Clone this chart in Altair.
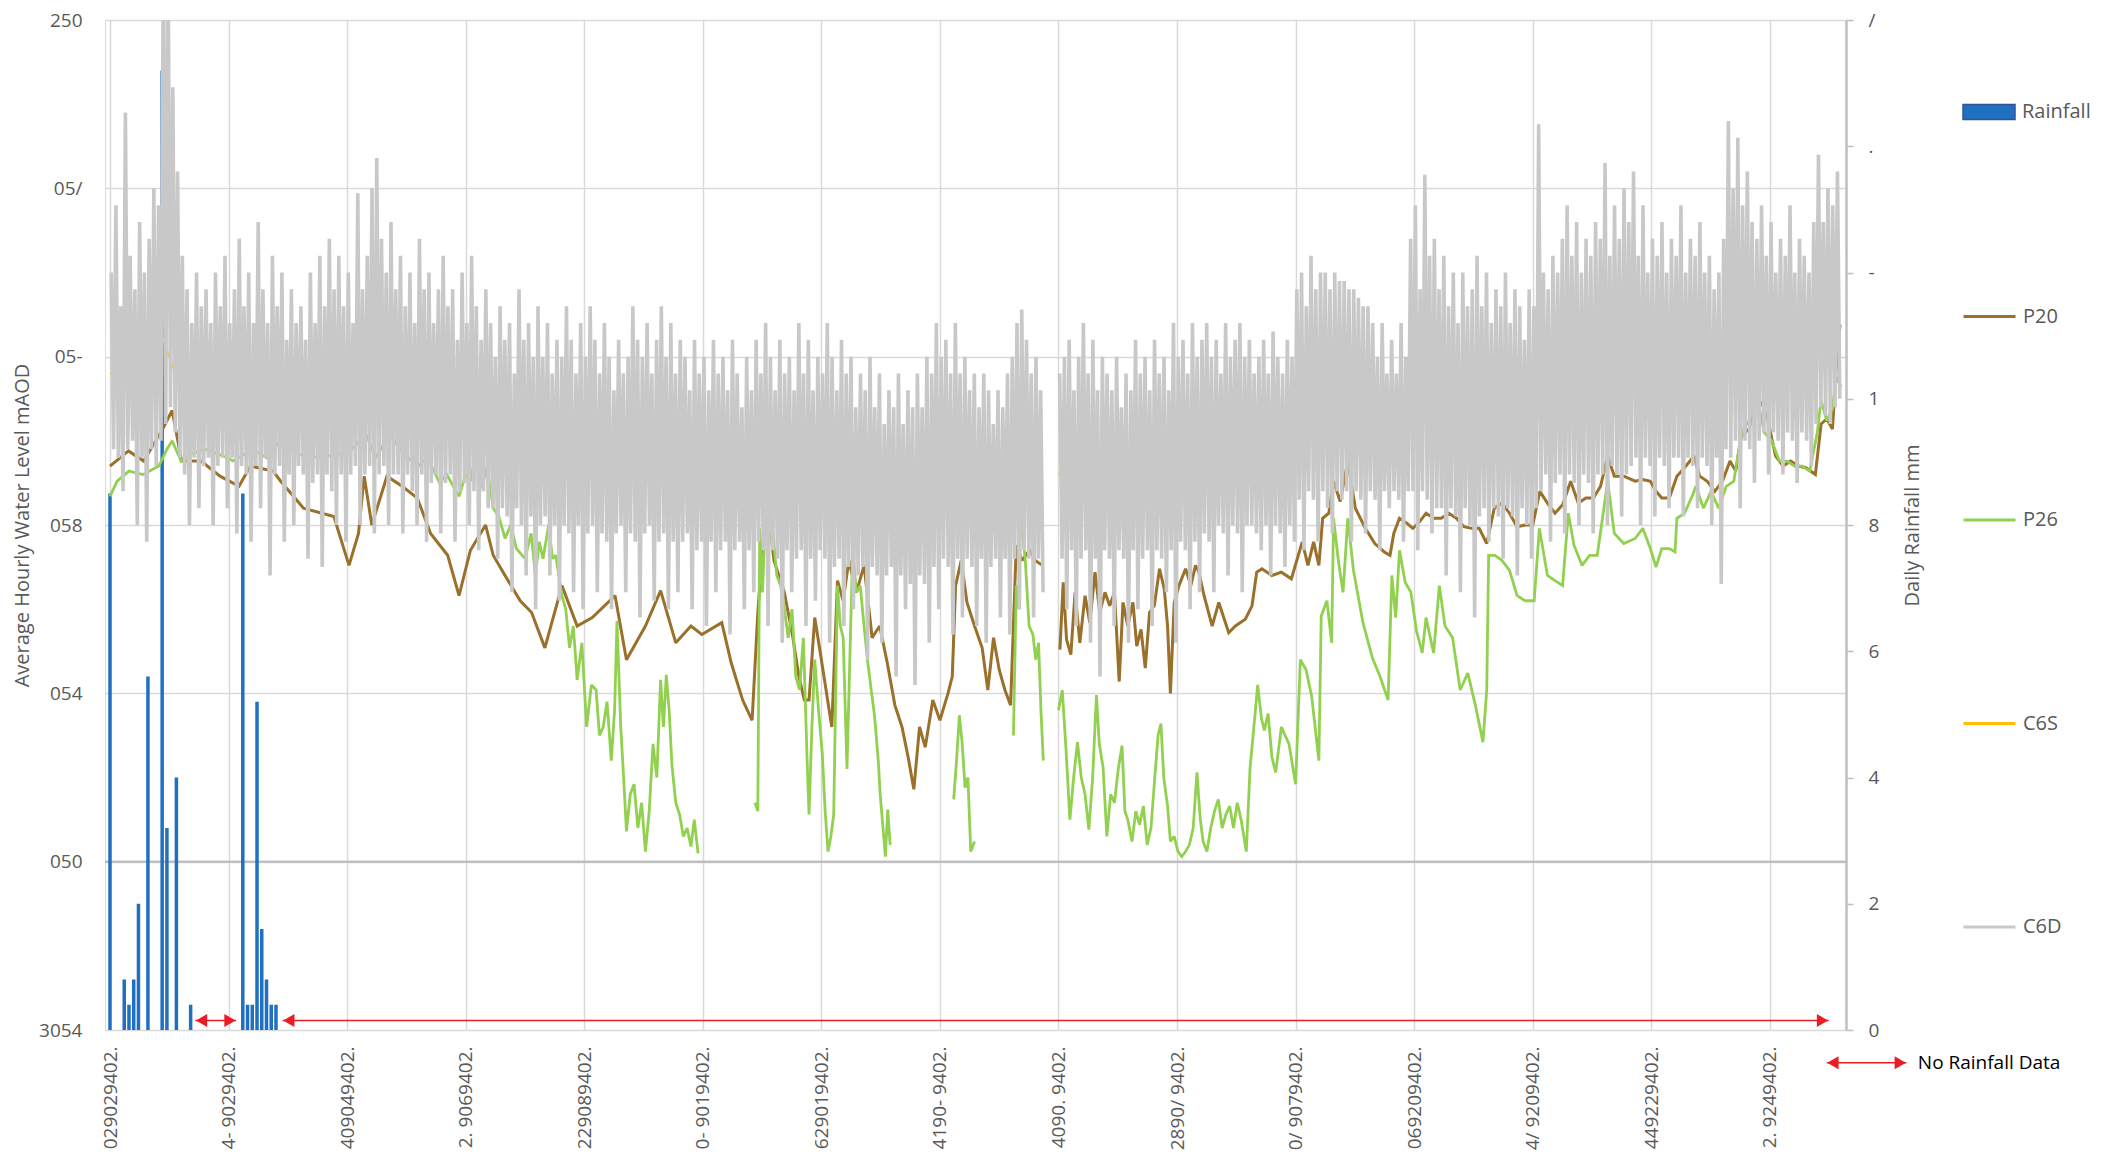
import altair as alt
import pandas as pd

# ---------------- data ----------------
X_TICK_DAYS = [0, 25, 50, 75, 100, 125, 150, 175, 200, 225, 250, 275, 300, 325, 350]
X_TICK_LABELS = ["029029402.", "4- 9029402.", "409049402.", "2. 9069402.", "229089402.",
                 "0- 9019402.", "629019402.", "4190- 9402.", "4090. 9402.", "2890/ 9402.",
                 "0/ 9079402.", "069209402.", "4/ 9209402.", "449229402.", "2. 9249402."]
LEFT_TICKS = [0, 1, 2, 3, 4, 5, 6]
LEFT_TICK_LABELS = ["3054", "050", "054", "058", "05-", "05/", "250"]
RIGHT_TICKS = [0, 2, 4, 6, 8, 10, 12, 14, 16]
RIGHT_TICK_LABELS = ["0", "2", "4", "6", "8", "1", "-", ".", "/"]

RAIN_DAY = [0, 3, 4, 5, 6, 8, 11, 12, 14, 17, 28, 29, 30, 31, 32, 33, 34, 35]
RAIN_MM = [8.5, 0.8, 0.4, 0.8, 2.0, 5.6, 15.2, 3.2, 4.0, 0.4, 8.5, 0.4, 0.4, 5.2, 1.6, 0.8, 0.4, 0.4]

# C6D daily high / low water (level units of the left axis grid, 0..6)
C6D_HIGH = [
    4.5, 4.9, 4.3, 5.45, 4.6, 4.4, 4.8, 4.5, 4.7, 5.0,
    4.9, 6.4, 6.4, 5.6, 5.1, 4.6, 4.4, 4.2, 4.5, 4.3,
    4.4, 4.2, 4.5, 4.3, 4.6, 4.2, 4.4, 4.7, 4.3, 4.5,
    4.2, 4.8, 4.4, 4.2, 4.6, 4.3, 4.5, 4.1, 4.4, 4.2,
    4.3, 4.1, 4.5, 4.2, 4.6, 4.3, 4.7, 4.4, 4.6, 4.3,
    4.5, 4.2, 4.97, 4.4, 4.6, 5.0, 5.18, 4.7, 4.5, 4.8,
    4.4, 4.6, 4.3, 4.5, 4.2, 4.7, 4.4, 4.5, 4.2, 4.4,
    4.6, 4.3, 4.4, 4.1, 4.5, 4.2, 4.6, 4.3, 4.1, 4.4,
    4.2, 4.0, 4.3, 4.1, 4.2, 3.9, 4.4, 4.1, 4.2, 4.0,
    4.3, 4.0, 4.2, 3.9, 4.1, 4.0, 4.3, 4.1, 3.9, 4.2,
    4.0, 4.3, 4.1, 3.9, 4.2, 4.0, 3.8, 4.1, 3.9, 4.0,
    4.3, 4.1, 4.0, 4.2, 3.9, 4.1, 4.3, 4.0, 4.2, 3.9,
    4.1, 4.0, 3.8, 4.1, 3.9, 4.0, 3.8, 4.1, 3.9, 4.0,
    3.8, 4.1, 3.9, 3.7, 4.0, 3.8, 4.1, 3.9, 4.2, 4.0,
    3.8, 4.1, 3.9, 4.0, 3.8, 4.2, 3.9, 4.1, 3.8, 4.0,
    3.9, 4.2, 4.0, 3.8, 4.1, 3.9, 4.0, 3.7, 3.9, 3.8,
    4.0, 3.7, 3.9, 3.6, 3.8, 3.7, 3.9, 3.6, 3.8, 3.7,
    3.9, 3.7, 4.0, 3.9, 4.2, 4.0, 4.1, 3.9, 4.2, 3.9,
    4.0, 3.8, 3.9, 3.7, 3.9, 3.8, 3.6, 3.8, 3.7, 3.9,
    4.0, 4.2, 4.28, 4.1, 3.9, 4.0, 3.8, None, None, None,
    3.9, 4.0, 4.1, 3.8, 4.0, 4.2, 3.9, 4.1, 3.8, 4.0,
    3.9, 3.8, 4.0, 3.7, 3.9, 3.8, 4.1, 3.9, 4.0, 3.8,
    4.1, 3.9, 4.0, 3.8, 4.2, 4.0, 4.1, 3.9, 4.2, 4.0,
    4.1, 4.2, 4.0, 4.1, 3.9, 4.2, 4.0, 4.1, 4.2, 4.0,
    4.1, 3.9, 4.0, 4.1, 3.9, 4.15, 4.0, 3.9, 4.1, 4.0,
    4.4, 4.5, 4.3, 4.6, 4.4, 4.5, 4.5, 4.4, 4.5, 4.45,
    4.45, 4.4, 4.4, 4.35, 4.3, 4.3, 4.2, 4.0, 4.2, 3.9,
    4.1, 3.9, 4.2, 4.0, 4.7, 4.9, 4.4, 5.08, 4.6, 4.7,
    4.4, 4.6, 4.3, 4.5, 4.2, 4.5, 4.3, 4.4, 4.6, 4.3,
    4.5, 4.2, 4.4, 4.3, 4.5, 4.2, 4.4, 4.3, 4.1, 4.4,
    4.3, 5.38, 4.5, 4.4, 4.6, 4.5, 4.7, 4.9, 4.6, 4.8,
    4.5, 4.7, 4.6, 4.8, 4.7, 5.15, 4.6, 4.9, 4.7, 5.0,
    4.8, 5.1, 4.6, 4.9, 4.5, 4.7, 4.6, 4.8, 4.5, 4.7,
    4.6, 4.9, 4.5, 4.7, 4.6, 4.8, 4.5, 4.6, 4.4, 4.5,
    4.7, 5.4, 5.0, 5.3, 4.9, 5.1, 4.8, 4.7, 4.9, 4.6,
    4.8, 4.5, 4.7, 4.6, 4.9, 4.5, 4.7, 4.6, 4.5, 4.8,
    5.2, 4.8, 5.0, 4.9, 5.1,
]
C6D_LOW = [
    3.45, 3.4, 3.2, 3.45, 3.5, 3.0, 3.4, 2.9, 3.45, 3.35,
    3.5, 3.6, 3.7, 3.55, 3.4, 3.3, 3.0, 3.4, 3.1, 3.35,
    3.4, 3.0, 3.35, 3.4, 3.1, 3.4, 2.95, 3.35, 3.3, 2.9,
    3.35, 3.1, 3.4, 2.7, 3.3, 3.35, 2.9, 3.3, 3.0, 3.35,
    3.3, 2.8, 3.25, 3.3, 2.75, 3.3, 3.2, 3.0, 3.3, 2.9,
    3.3, 3.35, 3.0, 3.3, 3.35, 2.95, 3.3, 3.35, 3.0, 3.3,
    3.3, 2.95, 3.3, 3.2, 3.0, 3.3, 2.9, 3.25, 3.3, 2.95,
    3.25, 3.3, 2.9, 3.2, 3.25, 3.0, 3.2, 2.85, 3.2, 3.1,
    3.1, 2.8, 3.1, 3.05, 2.6, 3.1, 3.0, 2.7, 3.05, 2.5,
    3.0, 3.05, 2.7, 3.0, 2.55, 3.0, 2.95, 2.6, 3.0, 2.5,
    2.95, 3.0, 2.6, 2.95, 2.9, 2.5, 2.95, 3.0, 2.6, 2.95,
    2.9, 2.45, 2.95, 3.0, 2.55, 2.9, 2.95, 2.5, 2.9, 2.6,
    2.9, 2.95, 2.5, 2.85, 2.9, 2.4, 2.9, 2.6, 2.85, 2.9,
    2.35, 2.85, 2.9, 2.5, 2.85, 2.6, 2.9, 2.85, 2.4, 2.85,
    2.8, 2.3, 2.85, 2.6, 2.8, 2.85, 2.4, 2.8, 2.55, 2.85,
    2.8, 2.3, 2.75, 2.8, 2.4, 2.75, 2.5, 2.7, 2.75, 2.2,
    2.75, 2.7, 2.3, 2.7, 2.75, 2.1, 2.7, 2.5, 2.65, 2.05,
    2.7, 2.65, 2.3, 2.75, 2.5, 2.8, 2.75, 2.35, 2.8, 2.45,
    2.8, 2.75, 2.4, 2.8, 2.3, 2.75, 2.8, 2.45, 2.8, 2.35,
    2.8, 2.5, 2.85, 2.8, 2.45, 2.8, 2.6, None, None, None,
    2.8, 2.5, 2.85, 2.4, 2.8, 2.85, 2.3, 2.8, 2.1, 2.85,
    2.8, 2.4, 2.85, 2.8, 2.3, 2.85, 2.5, 2.8, 2.85, 2.4,
    2.85, 2.8, 2.6, 2.85, 2.3, 2.9, 2.85, 2.5, 2.9, 2.6,
    2.95, 2.9, 2.6, 3.0, 2.95, 2.7, 3.0, 2.95, 2.6, 3.0,
    3.0, 2.95, 2.85, 3.0, 2.7, 3.0, 2.95, 2.75, 3.0, 2.9,
    3.15, 2.85, 3.2, 3.15, 2.9, 3.2, 3.1, 2.95, 3.2, 3.15,
    3.2, 2.9, 3.2, 3.15, 2.95, 3.2, 3.15, 2.85, 3.2, 3.1,
    3.2, 3.15, 2.9, 3.2, 3.2, 2.85, 3.2, 3.15, 2.95, 3.1,
    3.1, 2.7, 3.1, 3.05, 2.6, 3.1, 3.0, 2.45, 3.05, 3.1,
    2.9, 3.1, 3.05, 2.8, 3.1, 3.05, 2.7, 3.1, 3.0, 2.8,
    3.1, 3.2, 3.3, 2.9, 3.25, 3.3, 2.95, 3.3, 3.25, 3.0,
    3.3, 3.25, 2.95, 3.3, 3.3, 3.0, 3.35, 3.3, 3.05, 3.3,
    3.35, 3.4, 3.0, 3.4, 3.35, 3.05, 3.4, 3.35, 3.1, 3.4,
    3.4, 3.05, 3.4, 3.35, 3.1, 3.4, 3.35, 3.0, 3.4, 2.65,
    3.45, 3.4, 3.5, 3.1, 3.5, 3.45, 3.25, 3.5, 3.55, 3.3,
    3.55, 3.5, 3.3, 3.55, 3.5, 3.25, 3.55, 3.5, 3.35, 3.6,
    3.7, 3.65, 3.6, 3.7, 3.75,
]

C6S_DAY = [0, 5, 10, 15, 20, 25, 30, 35, 40, 45, 50, 55, 60, 65, 70, 75, 80, 85, 90, 95,
           100, 105, 110, 115, 120, 125, 130, 135, 140, 145, 150, 155, 160, 165, 170, 175,
           180, 185, 190, 196, None, 200, 205, 210, 215, 220, 225, 230, 235, 240, 245, 250,
           255, 260, 265, 270, 275, 280, 285, 290, 295, 300, 305, 310, 315, 320, 325, 330,
           335, 340, 345, 350, 355, 360, 364]
C6S_VAL = [3.9, 3.9, 4.2, 3.8, 3.8, 3.8, 3.75, 3.75, 3.7, 3.7, 3.75, 3.8, 3.7, 3.7, 3.7, 3.65,
           3.55, 3.5, 3.5, 3.45, 3.4, 3.4, 3.4, 3.4, 3.35, 3.3, 3.3, 3.3, 3.3, 3.3, 3.3, 3.25,
           3.2, 3.15, 3.2, 3.3, 3.3, 3.25, 3.3, 3.3, None, 3.3, 3.3, 3.25, 3.25, 3.3, 3.35,
           3.4, 3.4, 3.45, 3.45, 3.6, 3.7, 3.7, 3.6, 3.55, 3.7, 3.6, 3.55, 3.55, 3.55, 3.6,
           3.75, 3.8, 3.85, 3.85, 3.85, 3.85, 3.85, 3.9, 4.0, 3.95, 3.95, 4.1, 4.2]

P20_DAY = [0, 3.9, 7.1, 11.1, 13.1, 15.1, 19.2, 23.2, 27.2, 29.6, 34.4, 36, 40.8, 47.2, 50.4,
           52.4, 53.6, 55.2, 58.4, 61.6, 64.8, 67.6, 71.2, 73.6, 76, 79.2, 80.8, 83.3, 86.5,
           88.9, 91.7, 95.3, 98.5, 101.7, 106.5, 108.9, 112.9, 116.1, 119.3, 122.5, 124.8,
           129, 131, 133.4, 135.4, 136.6, 137.8, 138.4, 140, 142.2, 144, 145.2, 146.4, 147.4,
           148.6, 150, 152.2, 153.4, 154.6, 155.8, 157.4, 159, 160.7, 162.3, 163.9, 165.5,
           167, 168.3, 169.5, 170.7, 171.9, 173.5, 175, 176.7, 177.6, 178.3, 179.5, 180.7,
           182.3, 183.9, 185.1, 186.3, 187.5, 188.7, 189.9, 191.1, 192.3, 193.9, 195.1, 196.6,
           None,
           200.3, 201, 201.7, 202.6, 203.5, 204.5, 205.6, 206.6, 207.7, 208.7, 209.8, 210.8,
           211.8, 212.8, 213.6, 214.6, 215.7, 216.5, 217.4, 218.3, 219.2, 220.2, 221.3, 222.3,
           223, 223.6, 224.4, 225.4, 226.8, 227.9, 228.9, 229.6, 230.7, 232.4, 233.8, 235.9,
           237.3, 239.4, 240.8, 241.8, 242.9, 245, 247, 249.1,
           251.4, 252.6, 253.8, 254.9, 255.7,
           257, 258, 259.4, 261, 262.6, 264.7, 266.7, 268.7, 269.9, 270.7, 271.9, 273.5,
           274.7, 275.9, 277.5, 279.1, 280.7, 282.3, 283.9, 285.5, 287.1, 288.7, 290.3, 291.9,
           293.5, 295.1, 296.7, 298.4, 300, 301.5, 303.1, 304.7, 306.3, 308, 309.6, 311.2,
           312.8, 314.3, 315.8, 317.2, 319.2, 321.6, 323.2, 324.8, 326, 327.2, 328.8, 330.4,
           332, 334, 335.2, 336.8, 338.4, 340, 341.6, 342.8, 344, 345.6, 347.2, 348.4, 349.6,
           351.2, 352.8, 354.4, 356, 357.6, 359.6, 360.8, 362, 363.2, 364, 364.8]
P20_VAL = [3.35, 3.44, 3.38, 3.57, 3.68, 3.38, 3.38, 3.29, 3.23, 3.35, 3.32, 3.26, 3.1, 3.05,
           2.76, 2.95, 3.29, 3.0, 3.29, 3.23, 3.16, 2.95, 2.82, 2.58, 2.85, 3.0, 2.82, 2.7,
           2.55, 2.48, 2.27, 2.64, 2.4, 2.45, 2.58, 2.2, 2.4, 2.61, 2.3, 2.4, 2.35,
           2.42, 2.18, 1.96, 1.84, 2.48, 2.95, 3.2, 2.79, 2.6, 2.33, 2.11, 1.96, 1.96,
           2.45, 2.2, 1.8, 2.67, 2.55, 2.79, 2.6, 2.76, 2.33, 2.4, 2.18, 1.93,
           1.8, 1.62, 1.43, 1.8, 1.68, 1.96, 1.84, 2.0, 2.1, 2.64, 2.79, 2.54,
           2.4, 2.27, 2.02, 2.33, 2.14, 2.02, 1.93, 2.88, 2.79, 2.85, 2.79, 2.76,
           None,
           2.26, 2.66, 2.32, 2.23, 2.6, 2.3, 2.58, 2.42, 2.72, 2.48, 2.6, 2.52,
           2.6, 2.07, 2.54, 2.4, 2.54, 2.28, 2.38, 2.15, 2.48, 2.52, 2.74, 2.62,
           2.4, 2.0, 2.54, 2.64, 2.74, 2.64, 2.76, 2.72, 2.58, 2.4, 2.54, 2.36,
           2.4, 2.44, 2.52, 2.72, 2.74, 2.7, 2.72, 2.68,
           2.9, 2.76, 2.9, 2.76, 3.04,
           3.07, 3.26, 3.14, 3.38, 3.1, 2.98, 2.89, 2.84, 2.82, 2.95, 3.04, 3.01,
           2.98, 3.01, 3.07, 3.04, 3.04, 3.07, 3.04, 2.99, 2.98, 2.98, 2.89, 3.1,
           3.13, 3.07, 2.99, 3.0, 3.0, 3.2, 3.13, 3.07, 3.12, 3.26, 3.13, 3.16,
           3.16, 3.23, 3.41, 3.29, 3.29, 3.26, 3.27, 3.26, 3.2, 3.16, 3.16, 3.29,
           3.34, 3.41, 3.29, 3.26, 3.2, 3.26, 3.38, 3.32, 3.53, 3.57, 3.75, 3.72, 3.62,
           3.41, 3.35, 3.38, 3.35, 3.34, 3.3, 3.6, 3.63, 3.57, 3.94, 4.19]

P26_DAY = [0, 1.5, 4, 7, 10.3, 12, 13.1, 15, 17, 20, 23, 26, 30, 33, 36, 40, 44, 48, 51, 54, 56,
           59, 62, 65, 67, 69.5, 71, 73.6, 75, 76, 77.3, 78.4, 79.5, 80.8, 82, 83.3, 84.5, 85.7,
           87.5, 88.8, 89.7, 90.5, 91.3, 92.5, 93.3, 94, 95.3, 96.1, 96.9, 97.7, 98.5, 99.5,
           100.5, 101.5, 102.5, 103.2, 104, 104.8, 105.7, 106.4, 106.9, 107.7, 108.3, 108.9,
           109.7, 110.5, 111.3, 112.1, 112.9, 113.7, 114.5, 115.3, 116.1, 116.7, 117.3, 117.9,
           118.5, 119.3, 120.1, 120.9, 121.7, 122.5, 123.2, 124,
           None,
           136, 136.6, 137, 137.6, 138.4, 139, 139.8, 140.6, 141.4, 142.2, 143, 143.8, 144.6,
           145.4, 146.2, 147, 147.4, 148, 148.6, 149.4, 150.2, 150.8, 151.4, 152, 152.6, 153.4,
           154, 154.6, 155.4, 156, 156.6, 157.4, 158.2, 159, 159.8, 160.6, 161.2, 162, 162.4,
           163, 163.5, 164, 164.5,
           None,
           177.9, 178.5, 179.1, 179.7, 180.3, 180.9, 181.5, 182.3,
           None,
           190.5, 191.1, 191.6, 192, 192.6, 193, 193.8, 194.6, 195.2, 195.8, 196.3, 196.8,
           None,
           200, 200.8, 201.6, 202.4, 203.2, 204, 204.8, 205.6, 206.4, 207.2, 208, 208.6, 209.4,
           210.2, 211, 211.8, 212.6, 213.4, 214, 214.6, 215.5, 216.3, 217.1, 217.9, 218.7,
           219.5, 220.3, 221, 221.6, 222.2, 223, 223.6, 224.4, 225.2, 226, 226.8, 227.6, 228.4,
           229.2, 229.9, 230.5, 231.3, 232.1, 232.9, 233.7, 234.5, 235.3, 236.1, 236.9, 237.7,
           238.5, 239.6, 240.4, 241.2, 242, 242.8, 243.4, 244.2, 245, 245.8, 247, 248.6, 250,
           251, 252.2, 253.4, 254.9, 255.4, 256.6, 257.6, 258, 259, 260, 261, 262.2, 264.2,
           266.2, 267.8, 269.5, 270.3, 271.1, 271.9, 273.1, 274.3, 275.5, 276.7, 277.5, 279.1,
           280.3, 281.5, 283.1, 284.7, 286.3, 287.9, 289.5, 290.3, 290.7, 292, 293.5, 295.1,
           296.7, 298.4, 300.3, 301.4, 303.1, 304.7, 306.3, 307.5, 308.7, 310.4, 312, 313.6,
           315.8, 317.2, 319.2, 321.6, 323.2, 324.8, 326, 327.2, 328.8, 330, 330.4, 332, 333.6,
           334.4, 336, 337.6, 339.2, 340.8, 342.4, 344, 345.6, 347.2, 348.8, 350.4, 352, 353.6,
           355.2, 356.8, 358.4, 360, 360.8, 362, 363.2, 364, 365]
P26_VAL = [3.17, 3.26, 3.32, 3.3, 3.35, 3.45, 3.5, 3.38, 3.42, 3.45, 3.42, 3.38, 3.45, 3.4, 3.5,
           3.42, 3.4, 3.42, 3.45, 3.54, 3.4, 3.54, 3.42, 3.35, 3.4, 3.25, 3.3, 3.17, 3.3, 3.26,
           3.45, 3.22, 3.35, 3.1, 3.05, 2.92, 3.0, 2.86, 2.8, 2.95, 2.7, 2.9, 2.8, 3.0, 2.8,
           2.82, 2.58, 2.5, 2.27, 2.4, 2.08, 2.3, 1.8, 2.05, 2.02, 1.75, 1.8, 1.95, 1.6, 1.9,
           2.43, 1.8, 1.5, 1.18, 1.4, 1.46, 1.2, 1.35, 1.06, 1.3, 1.7, 1.5, 2.08, 1.8, 2.11,
           1.9, 1.57, 1.35, 1.28, 1.15, 1.2, 1.09, 1.25, 1.05,
           None,
           1.35, 1.3, 2.98, 2.6, 3.26, 3.0, 2.95, 2.7, 2.64, 2.5, 2.33, 2.5, 2.1,
           2.02, 2.33, 1.6, 1.28, 1.8, 2.2, 1.9, 1.64, 1.3, 1.06, 1.15, 1.28, 2.64,
           2.4, 2.33, 1.55, 2.2, 2.85, 2.6, 2.64, 2.4, 2.18, 2.0, 1.87, 1.6, 1.4,
           1.2, 1.03, 1.31, 1.1,
           None,
           1.37, 1.6, 1.87, 1.7, 1.44, 1.5, 1.06, 1.12,
           None,
           1.75, 2.64, 2.5, 3.1, 2.9, 2.79, 2.4, 2.35, 2.2, 2.3, 1.9, 1.6,
           None,
           1.9, 2.02, 1.66, 1.25, 1.5, 1.71, 1.5, 1.4, 1.19, 1.5, 1.99, 1.7, 1.56,
           1.15, 1.4, 1.35, 1.55, 1.69, 1.3, 1.25, 1.12, 1.3, 1.22, 1.33, 1.1,
           1.2, 1.5, 1.75, 1.82, 1.5, 1.33, 1.12, 1.15, 1.06, 1.03, 1.06, 1.1, 1.2,
           1.53, 1.25, 1.12, 1.06, 1.2, 1.3, 1.37, 1.2, 1.28, 1.33, 1.2, 1.35,
           1.25, 1.06, 1.56, 1.8, 2.05, 1.85, 1.78, 1.88, 1.62, 1.53, 1.8, 1.7, 1.46,
           2.2, 2.14, 1.98, 1.6, 2.46, 2.55, 2.3, 3.04, 2.79, 2.6, 3.04, 2.73, 2.42,
           2.21, 2.1, 1.96, 2.7, 2.45, 2.85, 2.66, 2.6, 2.37, 2.24, 2.45, 2.24,
           2.64, 2.4, 2.33, 2.02, 2.12, 1.93, 1.71, 2.02, 2.82, 2.82, 2.79, 2.73,
           2.58, 2.55, 2.55, 2.98, 2.7, 2.67, 2.64, 3.07, 2.88, 2.76, 2.82, 2.82,
           3.26, 2.95, 2.89, 2.92, 2.98, 2.86, 2.75, 2.86, 2.86, 2.84, 3.04, 3.07, 3.17,
           3.23, 3.1, 3.2, 3.1, 3.23, 3.26, 3.55, 3.62, 3.78, 3.55, 3.5, 3.38, 3.38,
           3.35, 3.35, 3.32, 3.55, 3.74, 3.62, 3.69, 3.88, 3.82]

ARROW_FROM = [18.0, 36.4, 362.0]
ARROW_TO = [26.6, 362.4, 378.8]
ARROW_MM = [0.15, 0.15, -0.52]
NOTE_TEXT = "No Rainfall Data"
NOTE_DAY = 381.2
NOTE_MM = -0.52

SERIES = ["P20", "P26", "C6S", "C6D"]
SERIES_COLORS = ["#9a702b", "#92d050", "#ffc000", "#c8c8c8"]

# ---------------- tables ----------------
assert len(C6D_HIGH) == 365 and len(C6D_LOW) == 365
assert len(P20_DAY) == len(P20_VAL) and len(P26_DAY) == len(P26_VAL)
assert len(C6S_DAY) == len(C6S_VAL)


def segmented(days, vals, name):
    rows, seg = [], 0
    for d, v in zip(days, vals):
        if d is None or v is None:
            seg += 1
            continue
        rows.append({"day": d, "level": v, "seg": seg, "series": name})
    return pd.DataFrame(rows)


c6d_rows = []
for d in range(365):
    hi, lo = C6D_HIGH[d], C6D_LOW[d]
    if hi is None:
        continue
    seg = 0 if d < 198 else 1
    c6d_rows.append({"day": d + 0.25, "level": hi, "seg": seg, "series": "C6D"})
    c6d_rows.append({"day": d + 0.75, "level": lo, "seg": seg, "series": "C6D"})
c6d_df = pd.DataFrame(c6d_rows)
c6s_df = segmented(C6S_DAY, C6S_VAL, "C6S")
p20_df = segmented(P20_DAY, P20_VAL, "P20")
p26_df = segmented(P26_DAY, P26_VAL, "P26")
rain_df = pd.DataFrame({"day": RAIN_DAY, "mm": RAIN_MM, "name": "Rainfall"})

shaft_df = pd.DataFrame({"x1": ARROW_FROM, "x2": ARROW_TO, "mm": ARROW_MM})
head_l = pd.DataFrame({"day": [a + 1.3 for a in ARROW_FROM], "mm": ARROW_MM})
head_r = pd.DataFrame({"day": [b - 1.3 for b in ARROW_TO], "mm": ARROW_MM})
note_df = pd.DataFrame({"day": [NOTE_DAY], "mm": [NOTE_MM], "txt": [NOTE_TEXT]})
crossing_df = pd.DataFrame({"level": [1.0]})

# ---------------- styling ----------------
FONT = "Open Sans"
TXT = "#595959"
GRID = "#d9d9d9"
RED = "#ec1c24"


def arr(labels):
    return "[" + ",".join("'" + s + "'" for s in labels) + "]"


x_scale = alt.Scale(domain=[0, 365], nice=False, zero=False)
x_axis = alt.Axis(values=X_TICK_DAYS, labelExpr=arr(X_TICK_LABELS) + "[round(datum.value/25)]",
                  labelAngle=270, labelAlign="right", labelBaseline="middle", labelPadding=16,
                  ticks=False, domain=False, grid=True, gridColor=GRID, gridWidth=1.5,
                  title=None, labelFontSize=19, labelColor=TXT, labelFont=FONT, labelLimit=400)
X = alt.X("day:Q", scale=x_scale, axis=x_axis)

lvl_scale = alt.Scale(domain=[0, 6], nice=False, zero=False)
rain_scale = alt.Scale(domain=[0, 16], nice=False, zero=True)

left_axis = alt.Axis(values=LEFT_TICKS, labelExpr=arr(LEFT_TICK_LABELS) + "[round(datum.value)]",
                     orient="left", grid=True, gridColor=GRID, gridWidth=1.5, ticks=False,
                     domain=False, labelPadding=23, labelFontSize=19, labelColor=TXT,
                     labelFont=FONT, title="Average Hourly Water Level mAOD", titleFontSize=20,
                     titleFont=FONT, titleColor=TXT, titleFontWeight="normal", titleAngle=270,
                     titleX=-83, titleY=505, titleAlign="center", titleBaseline="middle")
right_axis = alt.Axis(values=RIGHT_TICKS, labelExpr=arr(RIGHT_TICK_LABELS) + "[round(datum.value/2)]",
                      orient="right", grid=False, ticks=True, tickSize=7, tickColor="#bfbfbf",
                      tickWidth=1.5, domain=True, domainColor="#bfbfbf", domainWidth=2.5,
                      labelPadding=15, labelFontSize=19, labelColor=TXT, labelFont=FONT,
                      title="Daily Rainfall mm", titleFontSize=20, titleFont=FONT,
                      titleColor=TXT, titleFontWeight="normal", titleAngle=270, titleX=66,
                      titleY=505, titleAlign="center", titleBaseline="middle")

color_scale = alt.Scale(domain=SERIES, range=SERIES_COLORS)
line_legend = alt.Legend(orient="none", legendX=1857, legendY=269, title=None,
                         symbolType="stroke", symbolSize=2704, symbolStrokeWidth=3,
                         labelFontSize=20, labelColor=TXT, labelFont=FONT, labelOffset=6,
                         rowPadding=165.5, padding=0)
rain_legend = alt.Legend(orient="none", legendX=1857, legendY=65, title=None,
                         symbolType="M-1,-0.29H1V0.29H-1Z", symbolSize=2704,
                         symbolStrokeColor="#2f5597", symbolStrokeWidth=1.5,
                         labelFontSize=20, labelColor=TXT, labelFont=FONT, labelOffset=6,
                         padding=0)

crossing = alt.Chart(crossing_df).mark_rule(color="#bfbfbf", strokeWidth=2.5).encode(
    y=alt.Y("level:Q", scale=lvl_scale, axis=left_axis))

bars = alt.Chart(rain_df).mark_bar(width=3.5, clip=False).encode(
    x=X, y=alt.Y("mm:Q", scale=rain_scale, axis=right_axis),
    fill=alt.Fill("name:N", scale=alt.Scale(domain=["Rainfall"], range=["#1f70c1"]),
                  legend=rain_legend))


def line_layer(df, width):
    return alt.Chart(df).mark_line(strokeWidth=width, clip=True, strokeJoin="miter",
                                   strokeMiterLimit=2).encode(
        x=X, y=alt.Y("level:Q", scale=lvl_scale, axis=None),
        color=alt.Color("series:N", scale=color_scale, legend=line_legend),
        detail="seg:N", order="day:Q")


p20 = line_layer(p20_df, 3)
p26 = line_layer(p26_df, 2.8)
c6s = line_layer(c6s_df, 2)
c6d = line_layer(c6d_df, 3.6)

shafts = alt.Chart(shaft_df).mark_rule(color=RED, strokeWidth=1.5, clip=False).encode(
    x=alt.X("x1:Q", scale=x_scale, axis=x_axis), x2="x2:Q",
    y=alt.Y("mm:Q", scale=rain_scale, axis=None))
heads_l = alt.Chart(head_l).mark_point(shape="triangle-left", filled=True, color=RED,
                                       opacity=1, size=170, clip=False).encode(
    x=X, y=alt.Y("mm:Q", scale=rain_scale, axis=None))
heads_r = alt.Chart(head_r).mark_point(shape="triangle-right", filled=True, color=RED,
                                       opacity=1, size=170, clip=False).encode(
    x=X, y=alt.Y("mm:Q", scale=rain_scale, axis=None))
note = alt.Chart(note_df).mark_text(align="left", baseline="middle", font=FONT, fontSize=19,
                                    color="#000000", clip=False).encode(
    x=X, y=alt.Y("mm:Q", scale=rain_scale, axis=None), text="txt:N")

chart = alt.layer(crossing, bars, p20, p26, c6s, c6d, shafts, heads_l, heads_r, note).resolve_scale(
    y="independent").properties(
    width=1741, height=1010,
    autosize=alt.AutoSizeParams(type="none"),
    padding={"left": 97, "top": 12, "right": 250, "bottom": 120},
).configure_view(stroke=None).configure(background="white")

chart.save("out.html", embed_options={"renderer": "svg", "actions": False})
